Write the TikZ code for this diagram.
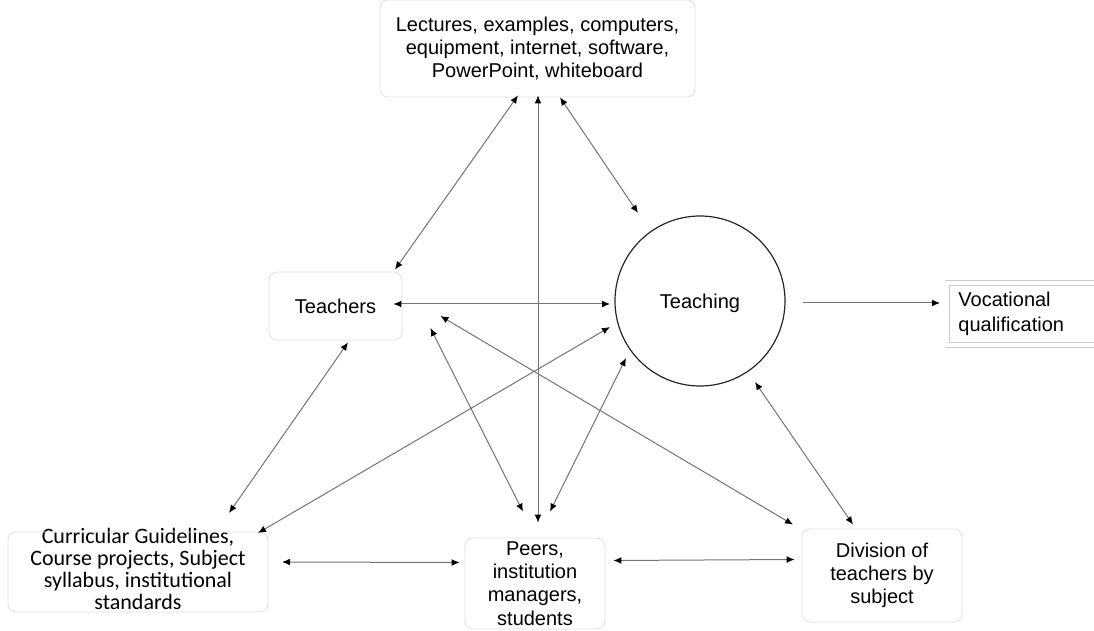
\documentclass[tikz,border=0pt]{standalone}
\usepackage{fontspec}
\setmainfont{Liberation Sans}
\newfontfamily\carlito{Carlito}
\usetikzlibrary{arrows.meta,calc}

\begin{document}
\begin{tikzpicture}[x=0.5pt, y=-0.5pt,
	>={Latex[length=4pt,width=3.4pt,color=black]},
	box/.style={draw=gray!25, rounded corners=4pt, align=center, inner sep=0pt,
		font=\fontsize{10}{11.6}\selectfont},
	conn/.style={<->, draw=black!55, line width=0.5pt}]

\useasboundingbox (0,0) rectangle (1094,631);

%% Knoten
\node[box, minimum width=157.5pt, minimum height=48.5pt] (res) at (537.5,48.5)
	{Lectures, examples, computers,\\ equipment, internet, software,\\ PowerPoint, whiteboard};
\node[box, minimum width=66.5pt, minimum height=34pt] (teachers) at (335.5,306) {Teachers};
\node[draw=black!85, circle, minimum size=85pt, inner sep=0pt, line width=0.6pt,
	text depth=0pt, font=\fontsize{10}{11.6}\selectfont] (teaching) at (700,301) {Teaching};
\node[draw=gray!40, double, double distance=2pt, anchor=west, align=left,
	text width=70pt, inner xsep=5.5pt, minimum height=31pt,
	font=\fontsize{10}{12.5}\selectfont] (voc) at (947,314) {Vocational\\ qualification};
\node[align=center, inner sep=0pt, font=\carlito\fontsize{11}{11}\selectfont] (curr) at (138,569)
	{Curricular Guidelines,\\ Course projects, Subject\\ syllabus, institutional\\ standards};
\draw[draw=gray!25, rounded corners=4pt] ($(curr.center)+(-130,-37)$) rectangle ($(curr.center)+(130,43)$);
\node[box, minimum width=70pt, minimum height=45.5pt] (peers) at (535,583.5)
	{Peers,\\ institution\\ managers,\\ students};
\node[box, minimum width=80pt, minimum height=46.5pt] (div) at (882,575.5)
	{Division of\\ teachers by\\ subject};
%%%%%%%%%%%%%%%%

%% Verbindungen
\draw[conn] ($(res.south)+(-19.5,-2)$) -- ($(teachers.north)+(59.5,-2)$);
\draw[conn] ($(res.south)+(0.5,-2)$) -- ($(peers.north)+(3,-15)$);
\draw[conn] ($(res.south)+(22.5,0)$) -- ($(teaching.center)+(-62,-88)$);
\draw[conn] ($(teachers.east)+(-9,-2)$) -- ($(teaching.center)+(-90,3)$);
\draw[conn, ->] ($(teaching.center)+(103,2)$) -- ($(voc.west)+(-7,-11)$);
\draw[conn] ($(teachers.south)+(12.5,2)$) -- ($(curr.center)+(91,-56)$);
\draw[conn] ($(teachers.east)+(38,10)$) -- ($(div.north)+(-89,-4)$);
\draw[conn] ($(teachers.east)+(28,22)$) -- ($(peers.north)+(-12,-26)$);
\draw[conn] ($(peers.north)+(15,-26)$) -- ($(teaching.center)+(-74,57)$);
\draw[conn] ($(curr.center)+(120,-36)$) -- ($(teaching.center)+(-90,26)$);
\draw[conn] ($(curr.center)+(144,-7)$) -- ($(peers.west)+(-5,-21)$);
\draw[conn] ($(peers.east)+(8,-23)$) -- ($(div.west)+(-7,-16)$);
\draw[conn] ($(teaching.center)+(55,81)$) -- ($(div.north)+(-29,-4)$);

\end{tikzpicture}
\end{document}
